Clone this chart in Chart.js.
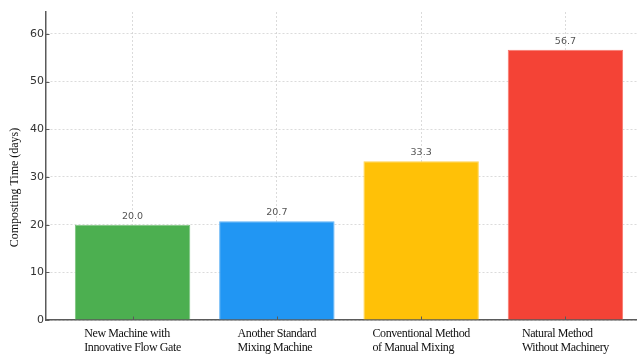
<!DOCTYPE html>
<html>
<head>
<meta charset="utf-8">
<script src="https://cdn.jsdelivr.net/npm/chart.js@4"></script>
<style>
  html, body { margin: 0; padding: 0; background: #fff; overflow: hidden; }
  #wrap { width: 637px; height: 354px; overflow: hidden; }
</style>
</head>
<body>
<div id="wrap"><canvas id="chart" width="652" height="354"></canvas></div>
<script>
// data
const categories = [
  ['New Machine with', 'Innovative Flow Gate'],
  ['Another Standard', 'Mixing Machine'],
  ['Conventional Method', 'of Manual Mixing'],
  ['Natural Method', 'Without Machinery']
];
const compostingDays = [20.0, 20.7, 33.3, 56.7];
const yTickValues = [0, 10, 20, 30, 40, 50, 60];
const yTitle = 'Composting Time (days)';

const barColors = ['#4CAF50', '#2196F3', '#FFC107', '#F44336'];
const barEdges = ['#7cc47f', '#5fb2f6', '#ffd350', '#f7776d'];
const axisColor = '#5a5a5a';
const gridColor = 'rgba(195,195,195,0.6)';
const serif = '"Liberation Serif", "Times New Roman", serif';
const sans = '"DejaVu Sans", sans-serif';

// value labels, x labels (left aligned lines), y title, inward ticks
const decorations = {
  id: 'decorations',
  afterDraw(chart) {
    const ctx = chart.ctx;
    const area = chart.chartArea;
    const xs = chart.scales.x, ys = chart.scales.y;
    ctx.save();

    // inward tick marks
    ctx.strokeStyle = axisColor;
    ctx.lineWidth = 1;
    yTickValues.forEach(v => {
      const y = Math.round(ys.getPixelForValue(v)) + 0.5;
      ctx.beginPath(); ctx.moveTo(area.left, y); ctx.lineTo(area.left + 3.5, y); ctx.stroke();
    });
    categories.forEach((c, i) => {
      const x = Math.round(xs.getPixelForValue(i)) + 0.5;
      ctx.beginPath(); ctx.moveTo(x, area.bottom); ctx.lineTo(x, area.bottom - 3.5); ctx.stroke();
    });

    // value labels
    ctx.font = '9.5px ' + sans;
    ctx.fillStyle = '#555';
    ctx.textAlign = 'center';
    ctx.textBaseline = 'alphabetic';
    chart.getDatasetMeta(0).data.forEach((bar, i) => {
      ctx.fillText(compostingDays[i].toFixed(1), bar.x, bar.y - 6);
    });

    // category labels
    ctx.font = '12px ' + serif;
    ctx.letterSpacing = '-0.4px';
    ctx.fillStyle = '#111';
    ctx.textAlign = 'left';
    ctx.textBaseline = 'middle';
    categories.forEach((lines, i) => {
      const cx = xs.getPixelForValue(i);
      const w = Math.max(...lines.map(l => ctx.measureText(l).width));
      lines.forEach((l, k) => {
        ctx.fillText(l, cx - w / 2, area.bottom + 13.5 + k * 14.5);
      });
    });

    // y title
    ctx.letterSpacing = '0px';
    ctx.translate(15, 187.5);
    ctx.rotate(-Math.PI / 2);
    ctx.textAlign = 'center';
    ctx.fillText(yTitle, 0, 0);

    ctx.restore();
  }
};

new Chart(document.getElementById('chart'), {
  type: 'bar',
  data: {
    datasets: [{
      data: compostingDays.map((v, i) => ({ x: i, y: v })),
      backgroundColor: barColors,
      borderColor: barEdges,
      borderWidth: 1,
      barPercentage: 0.8,
      categoryPercentage: 1
    }]
  },
  options: {
    responsive: false,
    animation: false,
    layout: { padding: { top: 12, left: 0, right: 0, bottom: 0 } },
    plugins: { legend: { display: false }, tooltip: { enabled: false } },
    scales: {
      x: {
        type: 'linear',
        min: -0.6,
        max: 3.6,
        offset: false,
        z: 1,
        afterBuildTicks: s => { s.ticks = categories.map((c, i) => ({ value: i })); },
        afterFit: s => { s.height = 34; },
        ticks: { display: false },
        grid: { color: gridColor, lineWidth: 1, drawTicks: false, offset: false },
        border: { color: axisColor, width: 1.5, dash: [2, 2] }
      },
      y: {
        min: 0,
        max: 64.6,
        z: 1,
        afterBuildTicks: s => { s.ticks = yTickValues.map(v => ({ value: v })); },
        afterFit: s => { s.width = 46; },
        ticks: {
          padding: 2,
          color: '#333',
          font: { family: sans, size: 11 }
        },
        grid: { color: gridColor, lineWidth: 1, drawTicks: false },
        border: { color: axisColor, width: 1.5, dash: [2, 2] }
      }
    }
  },
  plugins: [decorations]
});
</script>
</body>
</html>
